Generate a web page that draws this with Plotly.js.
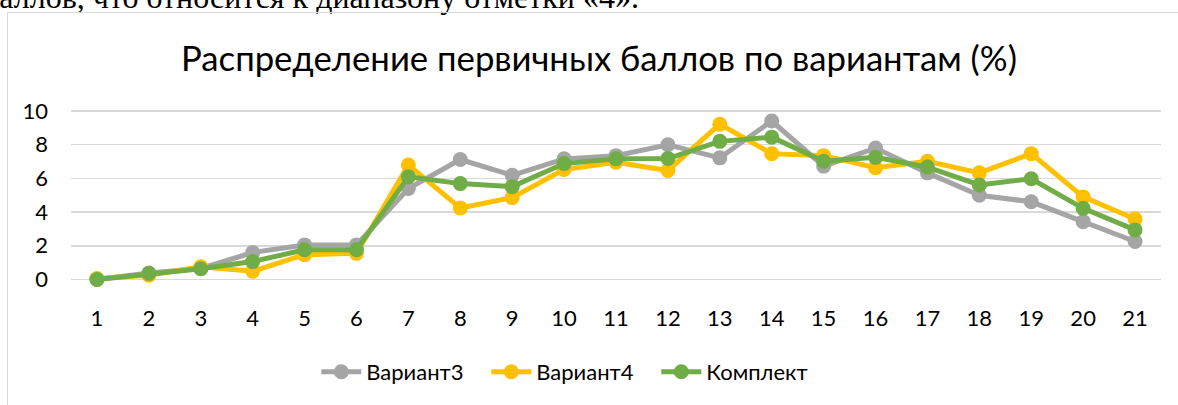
<!DOCTYPE html>
<html><head><meta charset="utf-8">
<script src="https://cdn.plot.ly/plotly-3.0.1.min.js"></script>
<style>
html,body{margin:0;padding:0;background:#fff;overflow:hidden;}
#wrap{position:relative;width:1178px;height:405px;}
#toptext{position:absolute;left:-17px;top:-19px;font-family:"Liberation Serif",serif;font-size:32px;line-height:32px;color:#000;white-space:nowrap;}
#frame{position:absolute;left:7px;top:12px;width:1200px;height:420px;border:1.5px solid #D9D9D9;box-sizing:border-box;}
#chart{position:absolute;left:0;top:0;width:1178px;height:405px;}
</style></head>
<body><div id="wrap">
<div id="toptext">баллов, что относится к диапазону отметки «4».</div>
<div id="frame"></div>
<div id="chart"></div>
</div>
<script>
const categories = ["1","2","3","4","5","6","7","8","9","10","11","12","13","14","15","16","17","18","19","20","21"];
const variant3 = [0.0,0.38,0.65,1.6,2.05,2.05,5.4,7.12,6.18,7.16,7.35,8.0,7.22,9.41,6.73,7.8,6.33,5.0,4.61,3.43,2.25];
const variant4 = [0.05,0.25,0.75,0.49,1.47,1.55,6.8,4.24,4.86,6.53,6.96,6.47,9.22,7.47,7.35,6.63,7.02,6.33,7.47,4.9,3.59];
const komplekt = [0.0,0.35,0.63,1.06,1.76,1.76,6.1,5.69,5.51,6.88,7.16,7.18,8.2,8.45,7.02,7.25,6.67,5.61,5.98,4.22,2.94];
const names = ["Вариант3","Вариант4","Комплект"];
const colors = ["#A5A5A5","#FFC000","#70AD47"];
const xs = categories.map(Number);
const series = [variant3, variant4, komplekt];
const traces = series.map((s,i)=>({
  x: xs, y: s, name: names[i], type:'scatter', mode:'lines+markers',
  line:{color:colors[i], width:5},
  marker:{color:colors[i], size:15},
  cliponaxis:false
}));
const font = 'Lato, "Noto Sans", sans-serif';
const layout = {
  width:1178, height:405,
  paper_bgcolor:'rgba(0,0,0,0)', plot_bgcolor:'rgba(0,0,0,0)',
  margin:{l:71, r:17, t:106, b:100},
  title:{text:'Распределение первичных баллов по вариантам (%)', font:{family:font, size:34.7, color:'#000'}, x:0.5085, xanchor:'center', y:0.855, yanchor:'middle', yref:'container'},
  xaxis:{range:[0.5,21.5], tickvals:xs, ticktext:categories, showgrid:false, zeroline:false, showline:false, ticks:'', tickfont:{family:font,size:22,color:'#000'}, fixedrange:true},
  yaxis:{range:[-1.4,10.3], tickvals:[0,2,4,6,8,10], showgrid:true, gridcolor:'#D9D9D9', gridwidth:1.5, zeroline:false, showline:false, ticks:'', ticklabelstandoff:22, tickfont:{family:font,size:22,color:'#000'}},
  showlegend:true,
  legend:{orientation:'h', x:0.459, xanchor:'center', y:-0.35, yanchor:'middle', font:{family:font,size:22,color:'#000'}, itemwidth:40, entrywidth:115, entrywidthmode:'pixels', traceorder:'normal'}
};
Plotly.newPlot('chart', traces, layout, {staticPlot:true});
</script>
</body></html>
